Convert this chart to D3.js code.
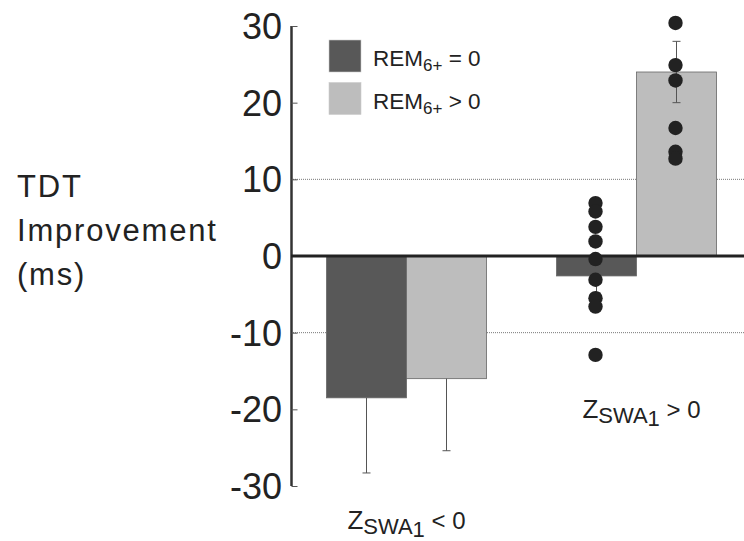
<!DOCTYPE html>
<html>
<head>
<meta charset="utf-8">
<script src="https://cdn.jsdelivr.net/npm/d3@7"></script>
<style>
  body { margin: 0; background: #fff; }
  text { font-family: "Liberation Sans", Arial, sans-serif; fill: #222; }
</style>
</head>
<body>
<svg id="chart" width="744" height="541"></svg>
<script>
// data
var groups = ['neg', 'pos'];
var series = ['rem0', 'remPos'];
var seriesNames = ['= 0', '> 0'];
var meanNeg = [-18.5, -16.0];
var meanPos = [-2.6, 24.0];
// error bar ends [lo, hi]
var errNeg = [[-28.3, -18.5], [-25.4, -16.0]];
var errPos = [[-4.8, -2.6], [20.0, 28.0]];
// individual subjects, zSWA1 > 0 group
var ptsRem0 = [6.9, 5.8, 3.8, 1.9, -0.4, -3.1, -5.5, -6.6, -12.9];
var ptsRemPos = [30.4, 24.9, 22.9, 16.7, 13.6, 12.7];
var yTicks = [-30, -20, -10, 0, 10, 20, 30];

var colors = ['#585858', '#bdbdbd'];

var svg = d3.select('#chart');

var y = d3.scaleLinear().domain([-30, 30]).range([486, 26]);
var gx = d3.scalePoint().domain(groups).range([406.5, 636.5]);
var sx = d3.scaleBand().domain(series).range([-80, 80]);

// gridlines at +-10
svg.selectAll('.grid').data([-10, 10]).enter().append('line')
  .attr('x1', 291).attr('x2', 744)
  .attr('y1', function(d) { return y(d); }).attr('y2', function(d) { return y(d); })
  .attr('stroke', '#777').attr('stroke-width', 1).attr('stroke-dasharray', '1,1');

// axis
var axis = d3.axisRight(y).tickValues(yTicks).tickSize(6).tickFormat('');
var ag = svg.append('g').attr('transform', 'translate(291.5,0)').call(axis);
ag.select('.domain').attr('stroke', '#333').attr('stroke-width', 2.5).attr('d', 'M0,' + y(30) + 'V' + y(-30));
ag.selectAll('.tick line').attr('stroke', '#555').attr('stroke-width', 1);

svg.selectAll('.ylab').data(yTicks).enter().append('text')
  .attr('x', 282).attr('y', function(d) { return y(d); })
  .attr('dy', '0.36em').attr('text-anchor', 'end')
  .style('font-size', '36px')
  .text(function(d) { return d; });

// bars
var barData = [];
[meanNeg, meanPos].forEach(function(m, gi) {
  m.forEach(function(v, si) {
    barData.push({g: groups[gi], s: series[si], si: si, v: v, err: (gi === 0 ? errNeg : errPos)[si]});
  });
});

svg.selectAll('.bar').data(barData).enter().append('rect')
  .attr('x', function(d) { return gx(d.g) + sx(d.s); })
  .attr('width', sx.bandwidth())
  .attr('y', function(d) { return y(Math.max(0, d.v)); })
  .attr('height', function(d) { return Math.abs(y(d.v) - y(0)); })
  .attr('fill', function(d) { return colors[d.si]; })
  .attr('stroke', '#666').attr('stroke-width', 0.8);

// error bars
var eg = svg.selectAll('.err').data(barData).enter().append('g')
  .attr('transform', function(d) { return 'translate(' + (gx(d.g) + sx(d.s) + sx.bandwidth() / 2) + ',0)'; });
eg.append('line')
  .attr('y1', function(d) { return y(d.err[0]); })
  .attr('y2', function(d) { return y(d.err[1]); })
  .attr('stroke', '#555').attr('stroke-width', 1);
eg.selectAll('.cap').data(function(d) {
    return d.err.filter(function(e) { return e !== d.v; });
  }).enter().append('line')
  .attr('x1', -4).attr('x2', 4)
  .attr('y1', function(d) { return y(d); }).attr('y2', function(d) { return y(d); })
  .attr('stroke', '#555').attr('stroke-width', 1);

// zero line
svg.append('line')
  .attr('x1', 291).attr('x2', 744).attr('y1', y(0)).attr('y2', y(0))
  .attr('stroke', '#222').attr('stroke-width', 3);

// subject dots
var cx0 = gx('pos') + sx('rem0') + sx.bandwidth() / 2 - 1;
var cx1 = gx('pos') + sx('remPos') + sx.bandwidth() / 2 - 1;
svg.selectAll('.d0').data(ptsRem0).enter().append('circle')
  .attr('cx', cx0).attr('cy', function(d) { return y(d); }).attr('r', 7.2).attr('fill', '#222');
svg.selectAll('.d1').data(ptsRemPos).enter().append('circle')
  .attr('cx', cx1).attr('cy', function(d) { return y(d); }).attr('r', 7.2).attr('fill', '#222');

// legend
var lg = svg.selectAll('.leg').data(series).enter().append('g')
  .attr('transform', function(d, i) { return 'translate(329,' + (40 + i * 42.5) + ')'; });
lg.append('rect').attr('width', 32).attr('height', 32)
  .attr('fill', function(d, i) { return colors[i]; })
  .attr('stroke', '#ccc').attr('stroke-width', 0.6);
var lt = lg.append('text').attr('x', 44).attr('y', 26).style('font-size', '22.5px');
lt.append('tspan').text('REM');
lt.append('tspan').attr('dy', 5).style('font-size', '17px').text('6+');
lt.append('tspan').attr('dy', -5).text(function(d, i) { return ' ' + seriesNames[i]; });

// y title
var yt = svg.append('text').attr('x', 17).attr('y', 197)
  .style('font-size', '31px').style('letter-spacing', '1.8px');
['TDT', 'Improvement', '(ms)'].forEach(function(s, i) {
  yt.append('tspan').attr('x', 17).attr('dy', i === 0 ? 0 : 44).text(s);
});

// group labels
var xLabels = [{g: 'neg', op: '< 0', y: 529}, {g: 'pos', op: '> 0', y: 418}];
var xl = svg.selectAll('.xl').data(xLabels).enter().append('text')
  .attr('x', function(d) { return gx(d.g) + (d.g === 'pos' ? 5 : 0); })
  .attr('y', function(d) { return d.y; })
  .attr('text-anchor', 'middle').style('font-size', '26px');
xl.append('tspan').text('Z');
xl.append('tspan').attr('dy', 5).style('font-size', '22px').text('SWA');
xl.append('tspan').attr('dy', 3).style('font-size', '22px').text('1');
xl.append('tspan').attr('dy', -8).style('font-size', '24px').text(function(d) { return ' ' + d.op; });
</script>
</body>
</html>
